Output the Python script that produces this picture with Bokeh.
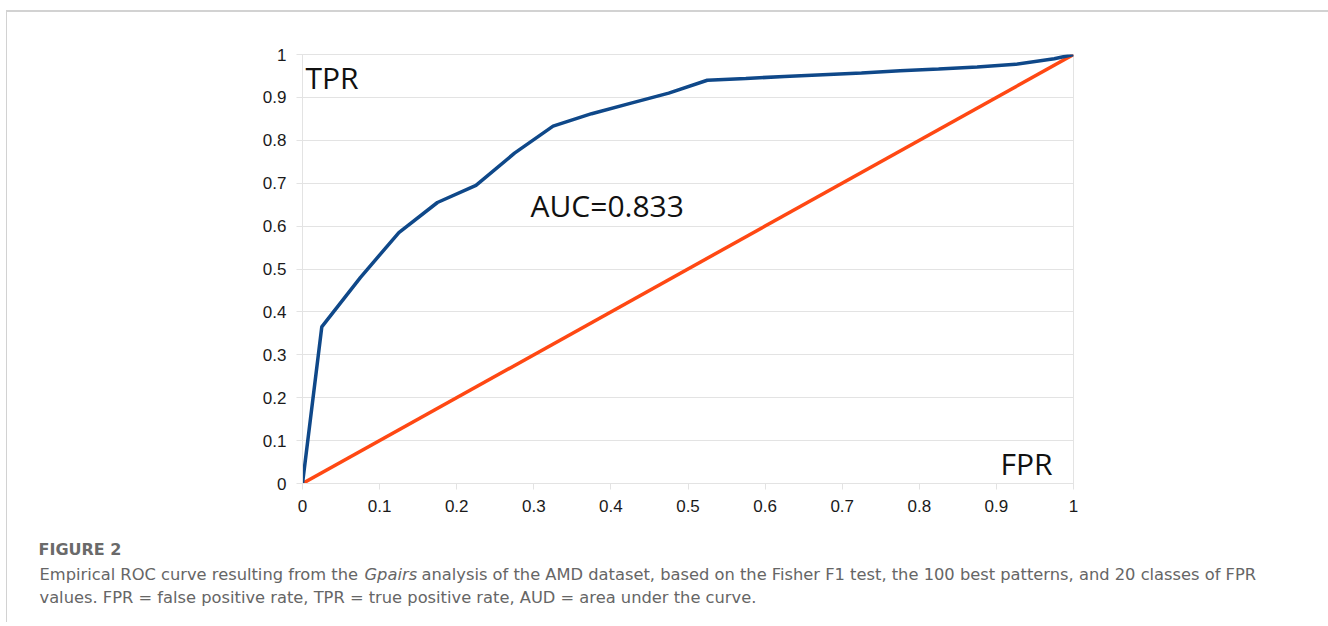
from bokeh.plotting import figure
from bokeh.layouts import column
from bokeh.models import Range1d, FixedTicker, CustomJSTickFormatter, Label
from bokeh.embed import file_html
from bokeh.resources import INLINE

# ---- data ----
fpr = [0, 0.025, 0.075, 0.125, 0.175, 0.225, 0.275, 0.325, 0.375, 0.425, 0.475,
       0.525, 0.575, 0.625, 0.675, 0.725, 0.775, 0.825, 0.875, 0.925, 0.975, 1.0]
tpr = [0, 0.365, 0.48, 0.585, 0.655, 0.695, 0.77, 0.833, 0.862, 0.886, 0.91,
       0.94, 0.944, 0.949, 0.953, 0.957, 0.962, 0.966, 0.971, 0.977, 0.99, 1.0]
diag_x = [0, 1]
diag_y = [0, 1]
ticks = [0, 0.1, 0.2, 0.3, 0.4, 0.5, 0.6, 0.7, 0.8, 0.9, 1.0]
auc_text = "AUC=0.833"
fig_title = "FIGURE 2"
cap1a = "Empirical ROC curve resulting from the"
cap1b = "Gpairs"
cap1c = "analysis of the AMD dataset, based on the Fisher F1 test, the 100 best patterns, and 20 classes of FPR"
cap2 = "values. FPR = false positive rate, TPR = true positive rate, AUD = area under the curve."

# canvas origin (page px) of the chart
OX, OY = 7, 12
W, H1 = 1321, 520
ML, MT = 295, 42
FW, FH = 771, 429
MR = W - ML - FW
MB = H1 - MT - FH
H2 = 90

p = figure(width=W, height=H1, output_backend="svg", toolbar_location=None,
           x_range=Range1d(0, 1), y_range=Range1d(0, 1),
           min_border_left=ML, min_border_right=MR, min_border_top=MT, min_border_bottom=MB)
p.frame_align = False

grid_c = "#e3e3e3"
p.outline_line_color = grid_c
p.xgrid.grid_line_color = None
p.ygrid.grid_line_color = grid_c
p.ygrid.ticker = FixedTicker(ticks=ticks)

fmt = CustomJSTickFormatter(code="return (Math.round(tick*10)/10).toString();")
for ax in (p.xaxis[0], p.yaxis[0]):
    ax.ticker = FixedTicker(ticks=ticks, minor_ticks=[])
    ax.formatter = fmt
    ax.axis_line_color = grid_c
    ax.major_tick_line_color = grid_c
    ax.major_tick_out = 6
    ax.major_tick_in = 0
    ax.minor_tick_line_color = None
    ax.major_label_text_font = "Liberation Sans"
    ax.major_label_text_font_size = "17px"
    ax.major_label_text_color = "#1a1a1a"
p.xaxis.major_label_standoff = 10
p.yaxis.major_label_standoff = 10

p.line(diag_x, diag_y, line_color="#FF4813", line_width=3.5)
p.line(fpr, tpr, line_color="#0F4889", line_width=3.5)

def dx(px):
    return (px - OX - ML) / FW

def dy(py):
    return (MT + FH - (py - OY)) / FH

big = dict(text_font="Open Sans", text_font_size="30px", text_color="#111111",
           text_baseline="alphabetic")
SH = 10  # baseline compensation
p.add_layout(Label(x=dx(305), y=dy(87 - SH), text="TPR", **big))
p.add_layout(Label(x=dx(1000), y=dy(473 - SH), text="FPR", **big))
p.add_layout(Label(x=dx(530), y=dy(215 - SH), text=auc_text, **big))

# caption panel, data units = page pixels
y0 = OY + H1
p2 = figure(width=W, height=H2, output_backend="svg", toolbar_location=None,
            x_range=Range1d(OX, OX + W), y_range=Range1d(y0 + H2, y0),
            x_axis_location=None, y_axis_location=None,
            min_border=0, min_border_left=0, min_border_right=0,
            min_border_top=0, min_border_bottom=0)
p2.frame_align = False
p2.outline_line_color = None
p2.xgrid.grid_line_color = None
p2.ygrid.grid_line_color = None

cap = dict(text_font="DejaVu Sans", text_font_size="16.3px", text_color="#666666",
           text_baseline="alphabetic")
CS = 7
p2.add_layout(Label(x=38, y=556 - CS, text=fig_title, text_font_style="bold",
                    text_font="DejaVu Sans", text_font_size="16px", text_color="#6a6a6a",
                    text_baseline="alphabetic"))
p2.add_layout(Label(x=39, y=581 - CS, text=cap1a, **cap))
p2.add_layout(Label(x=364, y=581 - CS, text=cap1b, text_font_style="italic", **cap))
p2.add_layout(Label(x=421, y=581 - CS, text=cap1c, **cap))
p2.add_layout(Label(x=39, y=604 - CS, text=cap2, **cap))

root = column(p, p2, spacing=0,
              styles={"margin-left": "6px", "margin-top": "10px",
                      "border-top": "2px solid #d2d2d2", "border-left": "1px solid #d2d2d2"})

open("out.html", "w").write(file_html(root, INLINE))
